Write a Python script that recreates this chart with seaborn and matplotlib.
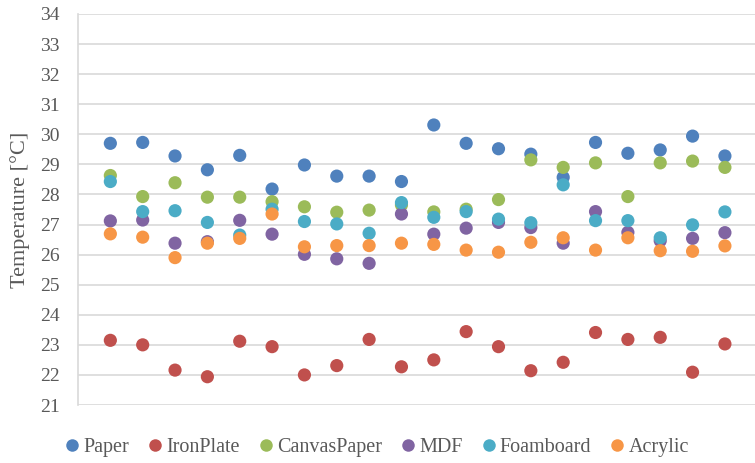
import matplotlib
matplotlib.use('Agg')
import matplotlib.pyplot as plt
import seaborn as sns
import pandas as pd
import numpy as np

# Measurement index 1..20
samples = list(range(1, 21))

paper = [29.70, 29.73, 29.28, 28.82, 29.30, 28.18, 28.98, 28.61, 28.61, 28.43,
         30.31, 29.70, 29.52, 29.34, 28.57, 29.73, 29.37, 29.48, 29.94, 29.28]
iron_plate = [23.15, 23.00, 22.16, 21.94, 23.12, 22.94, 22.00, 22.31, 23.18, 22.27,
              22.50, 23.44, 22.94, 22.14, 22.42, 23.41, 23.18, 23.25, 22.09, 23.03]
canvas_paper = [28.63, 27.93, 28.39, 27.91, 27.91, 27.76, 27.59, 27.41, 27.48, 27.65,
                27.42, 27.51, 27.83, 29.15, 28.90, 29.05, 27.93, 29.05, 29.11, 28.90]
mdf = [27.12, 27.15, 26.38, 26.43, 27.14, 26.68, 26.01, 25.86, 25.71, 27.35,
       26.68, 26.88, 27.07, 26.90, 26.38, 27.43, 26.74, 26.46, 26.54, 26.73]
foamboard = [28.43, 27.43, 27.46, 27.07, 26.65, 27.51, 27.10, 27.02, 26.71, 27.73,
             27.24, 27.43, 27.18, 27.06, 28.32, 27.13, 27.13, 26.56, 26.99, 27.42]
acrylic = [26.69, 26.58, 25.90, 26.38, 26.54, 27.35, 26.26, 26.30, 26.30, 26.38,
           26.34, 26.15, 26.08, 26.41, 26.56, 26.15, 26.56, 26.13, 26.11, 26.29]

series_names = ['Paper', 'IronPlate', 'CanvasPaper', 'MDF', 'Foamboard', 'Acrylic']
series_values = [paper, iron_plate, canvas_paper, mdf, foamboard, acrylic]
colors = ['#4F81BD', '#C0504D', '#9BBB59', '#8064A2', '#4BACC6', '#F79646']

df = pd.DataFrame({
    'sample': samples * len(series_names),
    'temp': [v for vals in series_values for v in vals],
    'material': [n for n in series_names for _ in samples],
})

sns.set_style('white')
plt.rcParams['font.family'] = ['Liberation Serif', 'DejaVu Serif']

fig = plt.figure(figsize=(7.55, 4.63), dpi=100)
ax = fig.add_axes([78 / 755, 1 - 405 / 463, 677 / 755, 391 / 463])

sns.scatterplot(data=df, x='sample', y='temp', hue='material', hue_order=series_names,
                palette=colors, s=90, edgecolor='none', linewidth=0, legend=False, ax=ax,
                zorder=3)

ax.set_xlim(0, 20.93)
ax.set_ylim(21, 34)
ax.set_yticks(np.arange(21, 35, 1))
ax.set_xticks([])
ax.grid(axis='y', color='#D9D9D9', linewidth=1.2, zorder=0)
for side in ['top', 'right', 'bottom']:
    ax.spines[side].set_visible(False)
ax.spines['left'].set_color('#D9D9D9')
ax.spines['left'].set_linewidth(1.2)
ax.tick_params(axis='y', length=0, pad=13, labelsize=14, labelcolor='#595959')
ax.set_xlabel('')
ax.set_ylabel('Temperature [°C]', fontsize=16, color='#595959', labelpad=7)

handles = [plt.Line2D([0], [0], marker='o', linestyle='', markersize=9,
                      markerfacecolor=c, markeredgecolor='none') for c in colors]
fig.legend(handles, series_names, loc='center', bbox_to_anchor=(378 / 755, 1 - 447 / 463),
           ncol=6, frameon=False, fontsize=14.5, handlelength=0.5, handletextpad=0.3,
           columnspacing=1.05, borderpad=0, labelcolor='#595959')

plt.savefig('out.png', dpi=100)
plt.close()
